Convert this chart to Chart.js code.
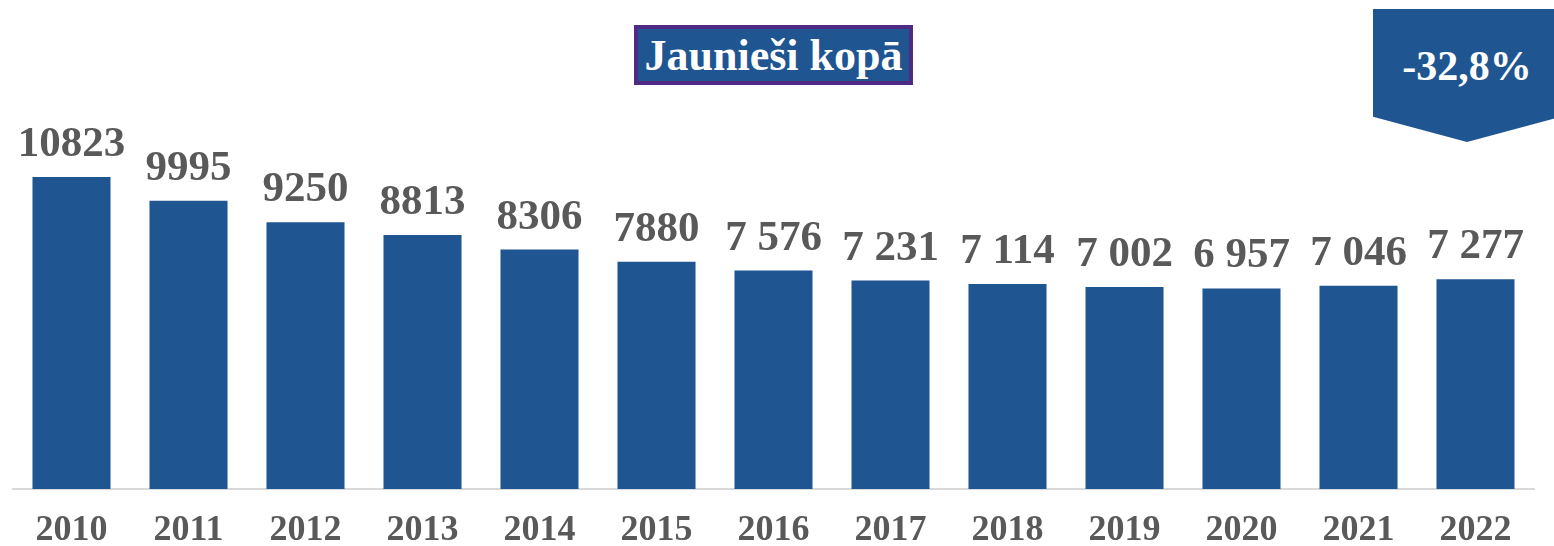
<!DOCTYPE html>
<html>
<head>
<meta charset="utf-8">
<script src="https://cdn.jsdelivr.net/npm/chart.js@4/dist/chart.umd.min.js"></script>
<style>
  html, body { margin: 0; padding: 0; background: #fff; }
  #wrap { position: relative; width: 1554px; height: 546px; overflow: hidden; }
  #title {
    position: absolute; left: 634px; top: 25px; width: 279px; height: 60px;
    box-sizing: border-box; border: 4px solid #4E2A84; background: #1F5591;
    color: #fff; font: bold 44px "Liberation Serif", "Times New Roman", serif;
    display: flex; align-items: center; justify-content: center; white-space: nowrap;
  }
  #change {
    position: absolute; left: 1373px; top: 9px; width: 188px; height: 133px;
    background: #1F5591;
    clip-path: polygon(0 0, 100% 0, 100% 81%, 50% 100%, 0 81%);
    color: #fff; font: bold 42px "Liberation Serif", "Times New Roman", serif;
    text-align: center; line-height: 42px; padding-top: 36px; box-sizing: border-box;
  }
</style>
</head>
<body>
<div id="wrap">
  <canvas id="chart" width="1554" height="546"></canvas>
  <div id="title">Jaunieši kopā</div>
  <div id="change">-32,8%</div>
</div>
<script>
// dati
const years = ['2010', '2011', '2012', '2013', '2014', '2015', '2016', '2017', '2018', '2019', '2020', '2021', '2022'];
const youthTotal = [10823, 9995, 9250, 8813, 8306, 7880, 7576, 7231, 7114, 7002, 6957, 7046, 7277];
const valueLabels = ['10823', '9995', '9250', '8813', '8306', '7880', '7 576', '7 231', '7 114', '7 002', '6 957', '7 046', '7 277'];

// vērtības virs stabiņiem
const barLabels = {
    id: 'barLabels',
    afterDatasetsDraw(chart) {
        const ctx = chart.ctx;
        const meta = chart.getDatasetMeta(0);
        ctx.save();
        ctx.font = 'bold 43px "Liberation Serif", "Times New Roman", serif';
        ctx.fillStyle = '#595959';
        ctx.textAlign = 'center';
        ctx.textBaseline = 'alphabetic';
        meta.data.forEach((bar, i) => {
            ctx.fillText(valueLabels[i], bar.x, bar.y - 21);
        });
        ctx.restore();
    }
};

new Chart(document.getElementById('chart'), {
    type: 'bar',
    data: {
        labels: years,
        datasets: [{
            data: youthTotal,
            backgroundColor: '#1F5591',
            categoryPercentage: 0.667,
            barPercentage: 1
        }]
    },
    options: {
        responsive: false,
        animation: false,
        layout: { padding: { left: 13, right: 20, top: 143, bottom: -27 } },
        plugins: {
            legend: { display: false },
            tooltip: { enabled: false }
        },
        scales: {
            x: {
                grid: { display: false, drawTicks: false },
                border: { display: true, color: '#D9D9D9', width: 2 },
                ticks: {
                    color: '#595959',
                    padding: 24,
                    font: { family: '"Liberation Serif", "Times New Roman", serif', size: 36, weight: 'bold', lineHeight: 1 }
                }
            },
            y: {
                display: false,
                min: 0,
                max: 12000
            }
        }
    },
    plugins: [barLabels]
});
</script>
</body>
</html>
